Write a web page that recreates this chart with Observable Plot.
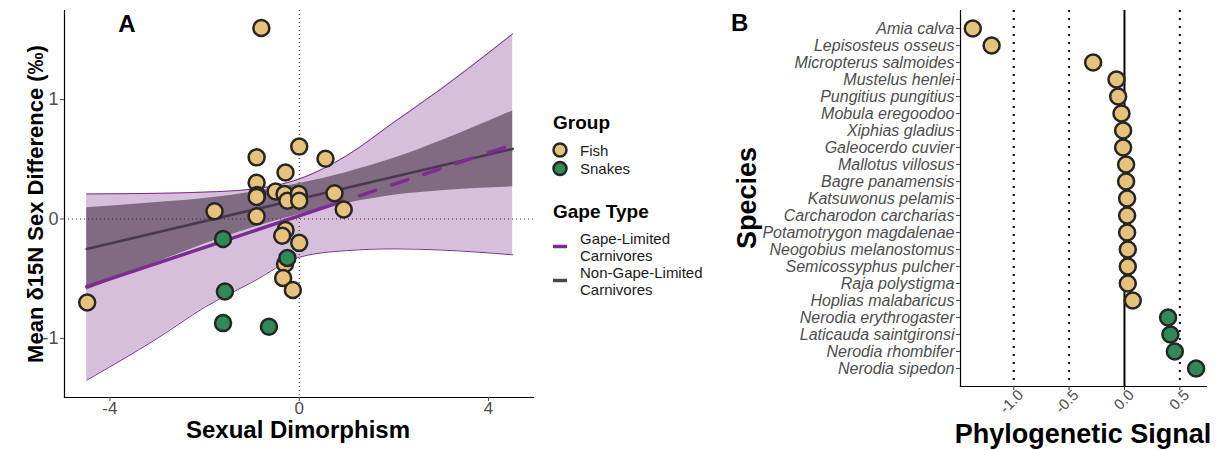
<!DOCTYPE html>
<html>
<head>
<meta charset="utf-8">
<script src="https://cdn.jsdelivr.net/npm/d3@7"></script>
<script src="https://cdn.jsdelivr.net/npm/@observablehq/plot@0.6"></script>
<style>
  body { margin: 0; background: #fff; }
  #wrap { position: relative; width: 1218px; height: 450px; font-family: "Liberation Sans", Arial, sans-serif; }
  .abs { position: absolute; top: 0; }
</style>
</head>
<body>
<div id="wrap"></div>
<script>
// ---------- Panel A data ----------
const groups = ["Fish", "Snakes"];
const gapeTypes = ["Gape-Limited Carnivores", "Non-Gape-Limited Carnivores"];
const groupColors = ["#e6c27b", "#2f8a55"];

const fishX = [-0.80, 0.00, -0.90, 0.555, -0.29, -0.90, -0.89, -0.90, -0.50, -0.31, -0.25, -0.01, 0.00, 0.745, 0.94, -1.79, -0.90, -0.29, -0.36, 0.00, -0.30, -0.34, -0.135, -4.48];
const fishY = [1.60, 0.606, 0.516, 0.505, 0.39, 0.304, 0.20, 0.185, 0.23, 0.21, 0.153, 0.21, 0.153, 0.215, 0.08, 0.064, 0.022, -0.092, -0.14, -0.20, -0.377, -0.495, -0.595, -0.70];
const snakeX = [-1.61, -0.25, -1.57, -1.61, -0.64];
const snakeY = [-0.168, -0.327, -0.607, -0.872, -0.903];

// fitted lines
const glSolidX = [-4.49, 0.93];
const glSolidY = [-0.567, 0.149];
const glDashX = [0.93, 4.51];
const glDashY = [0.149, 0.623];
const ngX = [-4.49, 4.51];
const ngY = [-0.251, 0.587];

// confidence ribbons
const bandX = [-4.49, -3, -2, -1, 0, 1, 2, 3, 4.51];
const glLo = [-1.35, -1.00, -0.74, -0.53, -0.32, -0.265, -0.25, -0.26, -0.30];
const glHi = [0.21, 0.215, 0.225, 0.25, 0.335, 0.53, 0.81, 1.09, 1.55];
const ngLo = [-0.596, -0.362, -0.209, -0.076, 0.037, 0.13, 0.198, 0.236, 0.269];
const ngHi = [0.094, 0.138, 0.171, 0.224, 0.297, 0.39, 0.508, 0.656, 0.905];

const aXDomain = [-4.96, 4.95];
const aYDomain = [-1.495, 1.746];
const aXTicks = [-4, 0, 4];
const aYTicks = [-1, 0, 1];

// ---------- Panel B data ----------
const species = ["Amia calva", "Lepisosteus osseus", "Micropterus salmoides", "Mustelus henlei", "Pungitius pungitius", "Mobula eregoodoo", "Xiphias gladius", "Galeocerdo cuvier", "Mallotus villosus", "Bagre panamensis", "Katsuwonus pelamis", "Carcharodon carcharias", "Potamotrygon magdalenae", "Neogobius melanostomus", "Semicossyphus pulcher", "Raja polystigma", "Hoplias malabaricus", "Nerodia erythrogaster", "Laticauda saintgironsi", "Nerodia rhombifer", "Nerodia sipedon"];
const signal = [-1.37, -1.20, -0.283, -0.072, -0.057, -0.027, -0.012, -0.012, 0.015, 0.015, 0.024, 0.024, 0.024, 0.03, 0.03, 0.03, 0.075, 0.394, 0.415, 0.455, 0.647];
const speciesGroup = ["Fish","Fish","Fish","Fish","Fish","Fish","Fish","Fish","Fish","Fish","Fish","Fish","Fish","Fish","Fish","Fish","Fish","Snakes","Snakes","Snakes","Snakes"];
const bDomain = [-1.481, 0.741];
const bTicks = [-1.0, -0.5, 0.0, 0.5];
const bDotted = [-1.0, -0.5, 0.5];
const bSolid = [0];

// ---------- build tables ----------
const ptsA = fishX.map((x, i) => ({x, y: fishY[i], g: "Fish"}))
  .concat(snakeX.map((x, i) => ({x, y: snakeY[i], g: "Snakes"})));
const band = bandX.map((x, i) => ({x, glLo: glLo[i], glHi: glHi[i], ngLo: ngLo[i], ngHi: ngHi[i]}));
const glSolid = glSolidX.map((x, i) => ({x, y: glSolidY[i]}));
const glDash = glDashX.map((x, i) => ({x, y: glDashY[i]}));
const ngLine = ngX.map((x, i) => ({x, y: ngY[i]}));
const ptsB = species.map((s, i) => ({s, v: signal[i], g: speciesGroup[i]}));

const font = "Liberation Sans, Arial, sans-serif";
const purple = "#7b2d8f";
const darkLine = "#4b3752";
const ptStroke = "#262626";
const colorScale = {domain: groups, range: groupColors};

const plotA = Plot.plot({
  width: 540, height: 450,
  marginLeft: 64, marginRight: 7, marginTop: 10, marginBottom: 53,
  style: {fontFamily: font, background: "transparent"},
  x: {domain: aXDomain},
  y: {domain: aYDomain},
  color: colorScale,
  marks: [
    Plot.areaY(band, {x: "x", y1: "glLo", y2: "glHi", fill: "#d5bfdb", curve: "monotone-x"}),
    Plot.line(band, {x: "x", y: "glHi", stroke: purple, strokeWidth: 1, curve: "monotone-x"}),
    Plot.line(band, {x: "x", y: "glLo", stroke: purple, strokeWidth: 1, curve: "monotone-x"}),
    Plot.areaY(band, {x: "x", y1: "ngLo", y2: "ngHi", fill: "#806b83", curve: "monotone-x"}),
    Plot.ruleX([0], {stroke: "#333", strokeWidth: 1, strokeDasharray: "1,3"}),
    Plot.ruleY([0], {stroke: "#333", strokeWidth: 1, strokeDasharray: "1,3"}),
    Plot.line(ngLine, {x: "x", y: "y", stroke: darkLine, strokeWidth: 2.6}),
    Plot.line(glSolid, {x: "x", y: "y", stroke: purple, strokeWidth: 3.5}),
    Plot.line(glDash, {x: "x", y: "y", stroke: purple, strokeWidth: 3.5, strokeDasharray: "17,17", strokeDashoffset: 17}),
    Plot.dot(ptsA, {x: "x", y: "y", fill: "g", r: 8, stroke: ptStroke, strokeWidth: 2.5}),
    Plot.frame({anchor: "left", stroke: "#000", strokeWidth: 1.2}),
    Plot.frame({anchor: "bottom", stroke: "#000", strokeWidth: 1.2}),
    Plot.axisX({ticks: aXTicks, tickFormat: d => String(d), tickSize: 4, tickPadding: 0, fontSize: 17, color: "#4d4d4d", label: null}),
    Plot.axisY({ticks: aYTicks, tickFormat: d => String(d), tickSize: 4, tickPadding: 2, fontSize: 18, color: "#4d4d4d", label: null})
  ]
});

const plotB = Plot.plot({
  width: 488, height: 450,
  marginLeft: 230, marginRight: 12, marginTop: 10, marginBottom: 64,
  style: {fontFamily: font, background: "transparent"},
  x: {domain: bDomain},
  y: {domain: species, type: "point", padding: 0.6},
  color: colorScale,
  marks: [
    Plot.ruleX(bDotted, {stroke: "#000", strokeWidth: 2, strokeDasharray: "2,6"}),
    Plot.ruleX(bSolid, {stroke: "#000", strokeWidth: 2}),
    Plot.dot(ptsB, {x: "v", y: "s", fill: "g", r: 8, stroke: ptStroke, strokeWidth: 2.5}),
    Plot.frame({anchor: "left", stroke: "#000", strokeWidth: 1.2}),
    Plot.frame({anchor: "bottom", stroke: "#000", strokeWidth: 1.2}),
    Plot.axisX({ticks: bTicks, tickFormat: () => "", tickSize: 4, color: "#333", label: null}),
    Plot.axisX({ticks: bTicks, tickFormat: d => d.toFixed(1), tickRotate: -45, tickSize: 0, tickPadding: 6, dx: 7, fontSize: 15, color: "#4d4d4d", label: null}),
    Plot.axisY({tickSize: 4, tickPadding: 2, fontSize: 16, fontStyle: "italic", color: "#4d4d4d", label: null})
  ]
});

const wrap = document.getElementById("wrap");
plotA.classList.add("abs"); plotA.style.left = "0px";
plotB.classList.add("abs"); plotB.style.left = "730px";
wrap.appendChild(plotA);
wrap.appendChild(plotB);

// ---------- titles & legend (overlay svg) ----------
const ov = d3.select(wrap).append("svg")
  .attr("class", "abs").style("left", "0px")
  .attr("width", 1218).attr("height", 450)
  .style("pointer-events", "none")
  .style("font-family", font);

function txt(x, y, s, size, opts = {}) {
  const t = ov.append("text").attr("x", x).attr("y", y).text(s)
    .attr("font-size", size).attr("fill", opts.fill || "#000")
    .attr("font-weight", opts.weight || "normal")
    .attr("text-anchor", opts.anchor || "start");
  if (opts.rotate) t.attr("transform", `rotate(${opts.rotate},${x},${y})`);
  if (opts.baseline) t.attr("dominant-baseline", opts.baseline);
  return t;
}

txt(127, 32, "A", 24, {weight: "bold", anchor: "middle"});
txt(731, 31, "B", 24, {weight: "bold"});
txt(43, 204, "Mean δ15N Sex Difference (‰)", 22, {weight: "bold", anchor: "middle", rotate: -90});
txt(298, 438, "Sexual Dimorphism", 24, {weight: "bold", anchor: "middle"});
txt(756, 198, "Species", 27, {weight: "bold", anchor: "middle", rotate: -90});
txt(1083, 443, "Phylogenetic Signal", 27, {weight: "bold", anchor: "middle"});

// legend: Group
txt(553, 129, "Group", 19, {weight: "bold"});
groups.forEach((g, i) => {
  const cy = 150 + i * 18.5;
  ov.append("circle").attr("cx", 560).attr("cy", cy).attr("r", 6.5)
    .attr("fill", groupColors[i]).attr("stroke", ptStroke).attr("stroke-width", 2.5);
  txt(580, cy, g, 15, {fill: "#1a1a1a", baseline: "central"});
});
// legend: Gape Type
txt(553, 218, "Gape Type", 19, {weight: "bold"});
const gapeKeyColors = [purple, "#474747"];
const gapeKeyY = [246.5, 280.5];
gapeTypes.forEach((g, i) => {
  ov.append("line").attr("x1", 553).attr("x2", 567)
    .attr("y1", gapeKeyY[i]).attr("y2", gapeKeyY[i])
    .attr("stroke", gapeKeyColors[i]).attr("stroke-width", 3.5);
  const parts = i === 0 ? ["Gape-Limited", "Carnivores"] : ["Non-Gape-Limited", "Carnivores"];
  parts.forEach((p, j) => txt(580, gapeKeyY[i] - 8.5 + j * 17.5, p, 15, {fill: "#1a1a1a", baseline: "central"}));
});
</script>
</body>
</html>
